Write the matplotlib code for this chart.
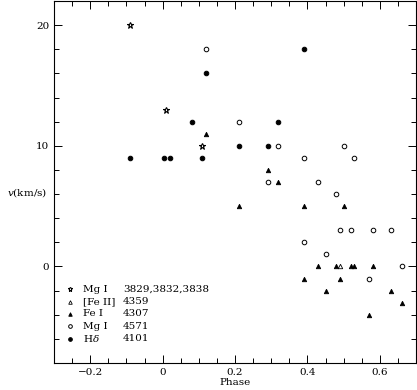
import matplotlib
matplotlib.use("Agg")
import matplotlib.pyplot as plt
from matplotlib.ticker import MultipleLocator

plt.rcParams['font.family'] = ['DejaVu Serif']
plt.rcParams['font.size'] = 7.5
plt.rcParams['mathtext.fontset'] = 'dejavuserif'

# Mg I 3829,3832,3838
mg1_ph = [-0.09, 0.01, 0.11]
mg1_v = [20, 13, 10]
# [Fe II] 4359
fe2_ph = [0.49]
fe2_v = [0]
# Fe I 4307
fe1_ph = [0.12, 0.29, 0.32, 0.21, 0.39, 0.50, 0.43, 0.48, 0.52, 0.53, 0.58,
          0.39, 0.49, 0.45, 0.63, 0.66, 0.57]
fe1_v = [11, 8, 7, 5, 5, 5, 0, 0, 0, 0, 0, -1, -1, -2, -2, -3, -4]
# Mg I 4571
mg2_ph = [0.12, 0.21, 0.32, 0.50, 0.39, 0.53, 0.29, 0.43, 0.48, 0.49, 0.52,
          0.58, 0.63, 0.39, 0.45, 0.66, 0.57]
mg2_v = [18, 12, 10, 10, 9, 9, 7, 7, 6, 3, 3, 3, 3, 2, 1, 0, -1]
# H delta 4101
hd_ph = [-0.09, 0.005, 0.02, 0.11, 0.08, 0.12, 0.39, 0.21, 0.29, 0.32]
hd_v = [9, 9, 9, 9, 12, 16, 18, 10, 10, 12]

names = ['Mg I', '[Fe II]', 'Fe I', 'Mg I', r'H$\delta$']
waves = ['3829,3832,3838', '4359', '4307', '4571', '4101']
styles = [
    dict(marker='*', ms=4.5, mfc='white', mec='black', mew=0.8),
    dict(marker='^', ms=3.2, mfc='white', mec='black', mew=0.6),
    dict(marker='^', ms=3.2, mfc='black', mec='black', mew=0.6),
    dict(marker='o', ms=3.3, mfc='white', mec='black', mew=0.7),
    dict(marker='o', ms=3.3, mfc='black', mec='black', mew=0.7),
]
series = [(mg1_ph, mg1_v), (fe2_ph, fe2_v), (fe1_ph, fe1_v),
          (mg2_ph, mg2_v), (hd_ph, hd_v)]

fig = plt.figure(figsize=(4.17, 3.90), dpi=100)
ax = fig.add_axes([54 / 417, 27 / 390, 362 / 417, 362 / 390])

for (ph, v), st in zip(series, styles):
    ax.plot(ph, v, ls='none', **st)

ax.set_xlim(-0.3, 0.7)
ax.set_ylim(-8, 22)
ax.xaxis.set_major_locator(MultipleLocator(0.2))
ax.xaxis.set_minor_locator(MultipleLocator(0.05))
ax.yaxis.set_major_locator(MultipleLocator(10))
ax.yaxis.set_minor_locator(MultipleLocator(2))
ax.tick_params(which='both', direction='in', top=True, right=True, width=0.7)
ax.tick_params(which='major', length=6)
ax.tick_params(which='minor', length=3.5)
ax.xaxis.set_major_formatter(plt.FuncFormatter(
    lambda x, p: '0' if abs(x) < 1e-9 else ('\u2212' if x < 0 else '') + f'{abs(x):.1f}'))
for s in ax.spines.values():
    s.set_linewidth(0.8)

ax.set_xlabel('Phase', labelpad=1)
ax.set_ylabel(r'$v$(km/s)', rotation=0, ha='right', va='center')
ax.yaxis.set_label_coords(-0.02, 0.47)

# legend block
rows_y = [0.2036, 0.1694, 0.1354, 0.1014, 0.0671]
for y, nm, wv, st in zip(rows_y, names, waves, styles):
    st2 = dict(st)
    st2['ms'] = st['ms'] * 0.8
    ax.plot([0.044], [y], transform=ax.transAxes, ls='none', clip_on=False, **st2)
    ax.text(0.080, y, nm, transform=ax.transAxes, va='center', ha='left')
    ax.text(0.190, y, wv, transform=ax.transAxes, va='center', ha='left')

fig.savefig('out.png', dpi=100)
